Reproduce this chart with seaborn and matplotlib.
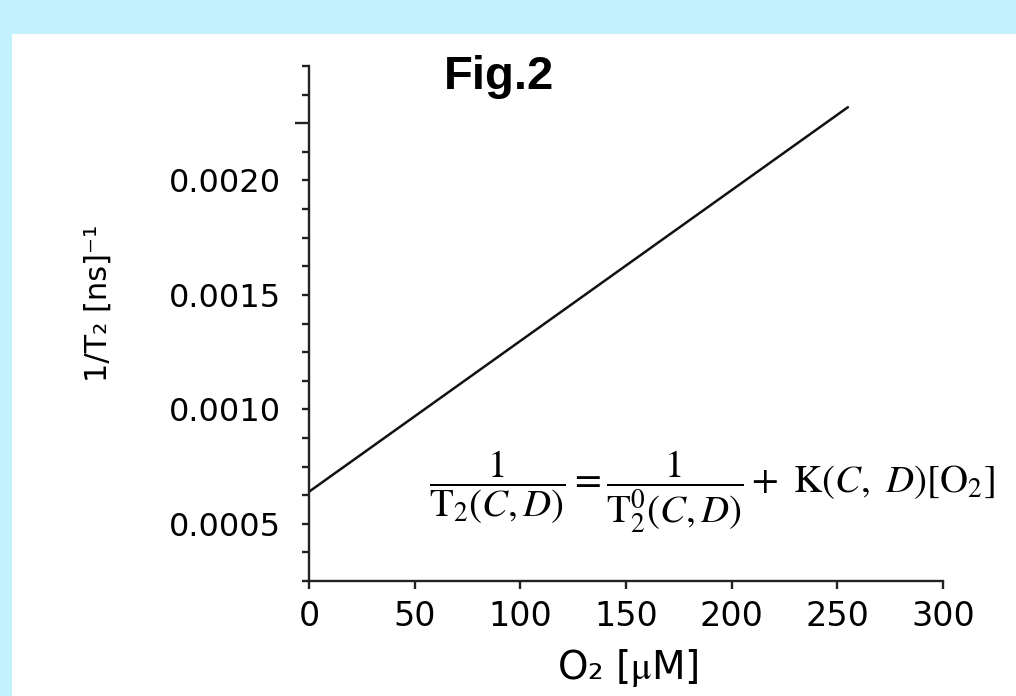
import numpy as np
import pandas as pd
import matplotlib
matplotlib.use("Agg")
import matplotlib.pyplot as plt
from matplotlib.patches import Rectangle
import seaborn as sns

# ---- data ----
o2_um = [0, 255]
inv_t2 = [0.00064, 0.00232]
x_ticks = [0, 50, 100, 150, 200, 250, 300]
x_tick_labels = ["0", "50", "100", "150", "200", "250", "300"]
y_ticks = [0.0005, 0.0010, 0.0015, 0.0020]
y_tick_labels = ["0.0005", "0.0010", "0.0015", "0.0020"]
y_minor_step = 0.000125
y_long_tick = 0.00225
x_lim = (0, 300)
y_lim = (0.00025, 0.0025)

sns.set_style("ticks")
plt.rcParams["font.family"] = ["DejaVu Sans"]
plt.rcParams["mathtext.fontset"] = "stix"
plt.rcParams["text.color"] = "black"
plt.rcParams["axes.labelcolor"] = "black"

W, H = 1016, 696
fig = plt.figure(figsize=(W / 100, H / 100), dpi=100)
fig.patch.set_facecolor("#C4F1FE")
fig.patches.append(Rectangle((12 / W, 0), 1, (H - 34) / H, transform=fig.transFigure,
                             facecolor="white", edgecolor="none", zorder=-10))

ax = fig.add_axes([309 / W, 1 - 581 / H, (943 - 309) / W, (581 - 66) / H])
ax.set_facecolor("none")
ax.set_zorder(1)

df = pd.DataFrame({"O2": o2_um, "invT2": inv_t2})
sns.lineplot(data=df, x="O2", y="invT2", ax=ax, color="#111111", linewidth=1.8)

ax.set_xlim(*x_lim)
ax.set_ylim(*y_lim)

for s in ["top", "right"]:
    ax.spines[s].set_visible(False)
for s in ["left", "bottom"]:
    ax.spines[s].set_linewidth(1.7)
    ax.spines[s].set_color("#222222")

ax.set_xticks(x_ticks)
ax.set_xticklabels(x_tick_labels)

all_y = np.round(np.arange(y_lim[0], y_lim[1] + y_minor_step / 2, y_minor_step), 6)
labels = []
for v in all_y:
    lab = ""
    for t, l in zip(y_ticks, y_tick_labels):
        if abs(v - t) < 1e-9:
            lab = l
    labels.append(lab)
ax.set_yticks(all_y)
ax.set_yticklabels(labels)

ax.tick_params(axis="x", direction="out", length=6, width=1.7, pad=8, labelsize=24, colors="#222222",
               labelcolor="black")
ax.tick_params(axis="y", direction="out", length=5, width=1.7, pad=15, labelsize=23, colors="#222222",
               labelcolor="black")
for v, tk in zip(all_y, ax.yaxis.get_major_ticks()):
    if abs(v - y_long_tick) < 1e-9:
        tk.tick1line.set_markersize(10)

ax.set_xlabel(r"O₂ [$\mathrm{\mu}$M]", fontsize=28)
ax.xaxis.set_label_coords(0.503, -0.128)
ax.set_ylabel("1/T₂ [ns]⁻¹", fontsize=22)
ax.yaxis.set_label_coords(-0.31, 0.54)

fig.text(499 / W, 1 - 77 / H, "Fig.2", fontsize=34, fontweight="bold", color="black",
         family=["Liberation Sans", "DejaVu Sans"], ha="center", va="center")

eq = (r"$\dfrac{1}{\mathrm{T}_2(C,D)} = \dfrac{1}{\mathrm{T}_2^0(C,D)}"
      r" +\ \mathrm{K}(C,\ D)[\mathrm{O}_2]$")
fig.text(429 / W, 1 - 492 / H, eq, fontsize=28, ha="left", va="center", color="black")

fig.savefig("out.png", dpi=100, facecolor=fig.get_facecolor())
